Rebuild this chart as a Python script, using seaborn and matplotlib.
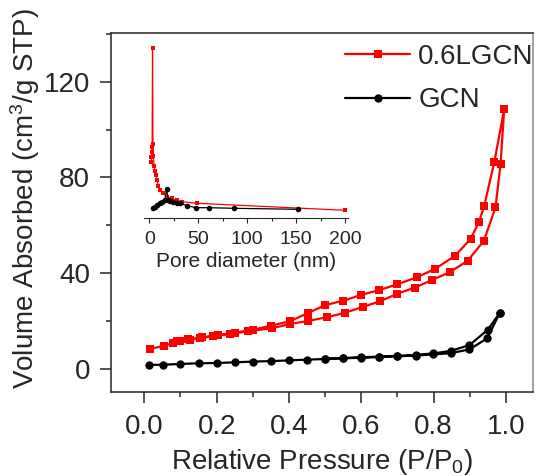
import matplotlib
matplotlib.use("Agg")
import matplotlib.pyplot as plt
from matplotlib.ticker import MultipleLocator
import seaborn as sns
import pandas as pd

# ---- main isotherm data ----
lgcn_ads_p = [0.016, 0.055, 0.080, 0.099, 0.126, 0.154, 0.191, 0.237, 0.288, 0.352, 0.403, 0.453,
              0.504, 0.555, 0.605, 0.652, 0.700, 0.748, 0.796, 0.845, 0.894, 0.939, 0.971, 0.985, 0.995]
lgcn_ads_v = [8.4, 9.7, 10.9, 11.7, 12.2, 12.8, 13.8, 14.6, 15.8, 17.0, 18.8, 20.1,
              21.6, 23.5, 26.0, 28.3, 31.5, 34.0, 37.2, 40.5, 45.2, 53.6, 67.5, 85.6, 108.5]
lgcn_des_p = [0.995, 0.968, 0.940, 0.925, 0.902, 0.860, 0.804, 0.753, 0.700, 0.650, 0.598, 0.550,
              0.500, 0.453, 0.403, 0.350, 0.300, 0.250, 0.205, 0.160, 0.120, 0.090]
lgcn_des_v = [108.5, 86.6, 68.2, 61.3, 54.3, 47.4, 41.8, 38.3, 35.4, 33.0, 30.9, 28.5,
              26.7, 23.4, 20.0, 18.1, 16.4, 15.2, 14.2, 13.2, 12.4, 11.6]

gcn_ads_p = [0.012, 0.051, 0.099, 0.150, 0.200, 0.251, 0.300, 0.349, 0.399, 0.449, 0.500, 0.550,
             0.599, 0.650, 0.700, 0.751, 0.799, 0.847, 0.899, 0.948, 0.983]
gcn_ads_v = [1.7, 1.8, 2.1, 2.4, 2.5, 2.8, 3.1, 3.3, 3.6, 3.9, 4.2, 4.5,
             4.7, 5.0, 5.3, 5.6, 6.1, 6.6, 8.2, 12.8, 23.5]
gcn_des_p = [0.983, 0.949, 0.899, 0.848, 0.799, 0.750, 0.700, 0.650, 0.600, 0.550, 0.500]
gcn_des_v = [23.5, 16.3, 10.0, 7.6, 6.5, 5.9, 5.5, 5.2, 4.9, 4.6, 4.3]

# ---- inset pore size distribution (arbitrary units) ----
lgcn_pore_d = [2.0, 2.3, 2.6, 3.0, 3.4, 3.8, 4.3, 5.0, 5.8, 6.8, 7.8, 9.2, 10.9, 14.3, 17.7,
               22.8, 27.9, 33.0, 49.3, 200.0]
lgcn_pore_v = [56, 61, 66, 71, 170, 74, 62, 52, 47, 43, 38, 32, 28, 24.4, 21,
               19.4, 17.7, 16, 14.4, 7.4]
gcn_pore_d = [4.1, 5.8, 8.0, 10.9, 13.5, 16.0, 17.7, 19.5, 21.5, 24.5, 28.0, 31.3, 38.5, 48.0,
              61.5, 86.7, 152.3]
gcn_pore_v = [9.4, 10.5, 12.5, 14.4, 16.0, 17.7, 28.7, 17.5, 16.8, 16.0, 15.0, 14.4, 12.0, 10.0,
              10.0, 9.4, 8.4]

labels = ["0.6LGCN", "GCN"]
x_ticks = [0.0, 0.2, 0.4, 0.6, 0.8, 1.0]
y_ticks = [0, 40, 80, 120]
inset_ticks = [0, 50, 100, 150, 200]

sns.set_style("ticks")
plt.rcParams["font.family"] = ["Liberation Sans", "DejaVu Sans"]
plt.rcParams["mathtext.fontset"] = "custom"
plt.rcParams["mathtext.rm"] = "Liberation Sans"
plt.rcParams["mathtext.default"] = "regular"

W, H = 539, 476
fig = plt.figure(figsize=(W / 100, H / 100), dpi=100)
ax = fig.add_axes([111 / W, 1 - 392 / H, (533 - 111) / W, (392 - 33) / H])

lg = pd.DataFrame({"p": lgcn_ads_p + lgcn_des_p, "v": lgcn_ads_v + lgcn_des_v})
gc = pd.DataFrame({"p": gcn_ads_p + gcn_des_p, "v": gcn_ads_v + gcn_des_v})

sns.lineplot(data=lg, x="p", y="v", sort=False, estimator=None, color="#ff0000", marker="s",
             markersize=5.5, markeredgewidth=0, linewidth=1.6, label=labels[0], ax=ax)
sns.lineplot(data=gc, x="p", y="v", sort=False, estimator=None, color="black", marker="o",
             markersize=6, markeredgewidth=0, linewidth=1.6, label=labels[1], ax=ax)

ax.set_xlim(-0.0921, 1.0747)
ax.set_ylim(-9.6, 140.35)
ax.set_xticks(x_ticks)
ax.set_xticklabels([f"{t:.1f}" for t in x_ticks])
ax.set_yticks(y_ticks)
ax.xaxis.set_minor_locator(MultipleLocator(0.1))
ax.yaxis.set_minor_locator(MultipleLocator(20))
ax.tick_params(which="major", direction="out", length=8, width=1.1, labelsize=20)
ax.tick_params(axis="x", which="major", pad=8)
ax.tick_params(axis="y", which="major", pad=7)
ax.tick_params(which="minor", direction="out", length=3.8, width=1.1)
for s in ax.spines.values():
    s.set_linewidth(1.1)
ax.spines["right"].set_color("#888888")
ax.set_xlabel("Relative Pressure (P/P$_0$)", fontsize=20, labelpad=5)
ax.set_ylabel("Volume Absorbed (cm$^3$/g STP)", fontsize=20)
ax.yaxis.set_label_coords(-0.1635, 0.54)

leg = ax.legend(loc="upper left", bbox_to_anchor=(345 / W, 1 - 44 / H),
                bbox_transform=fig.transFigure, frameon=False, fontsize=20,
                handlelength=2.34, handletextpad=0.3, labelspacing=0.62,
                borderpad=0, borderaxespad=0)

# ---- inset ----
ins = fig.add_axes([144.3 / W, 1 - 217.7 / H, (348 - 144.3) / W, (217.7 - 38) / H])
ins.set_facecolor("none")
sns.lineplot(x=lgcn_pore_d, y=lgcn_pore_v, sort=False, estimator=None, color="#ff0000",
             marker="s", markersize=3.4, markeredgewidth=0, linewidth=0.9, ax=ins)
sns.lineplot(x=gcn_pore_d, y=gcn_pore_v, sort=False, estimator=None, color="black",
             marker="o", markersize=4, markeredgewidth=0, linewidth=0.9, ax=ins)
ins.set_xlim(-5, 203)
ins.set_ylim(0, 179.7)
ins.set_xticks(inset_ticks)
ins.xaxis.set_minor_locator(MultipleLocator(25))
ins.set_yticks([])
for side in ["left", "top", "right"]:
    ins.spines[side].set_visible(False)
ins.spines["bottom"].set_linewidth(0.8)
ins.tick_params(axis="x", which="major", direction="out", length=3.6, width=0.8,
                labelsize=14, pad=6)
ins.tick_params(axis="x", which="minor", direction="out", length=1.8, width=0.8)
ins.set_xlabel("Pore diameter (nm)", fontsize=15, labelpad=3)
ins.set_ylabel("")

fig.savefig("out.png", dpi=100)
